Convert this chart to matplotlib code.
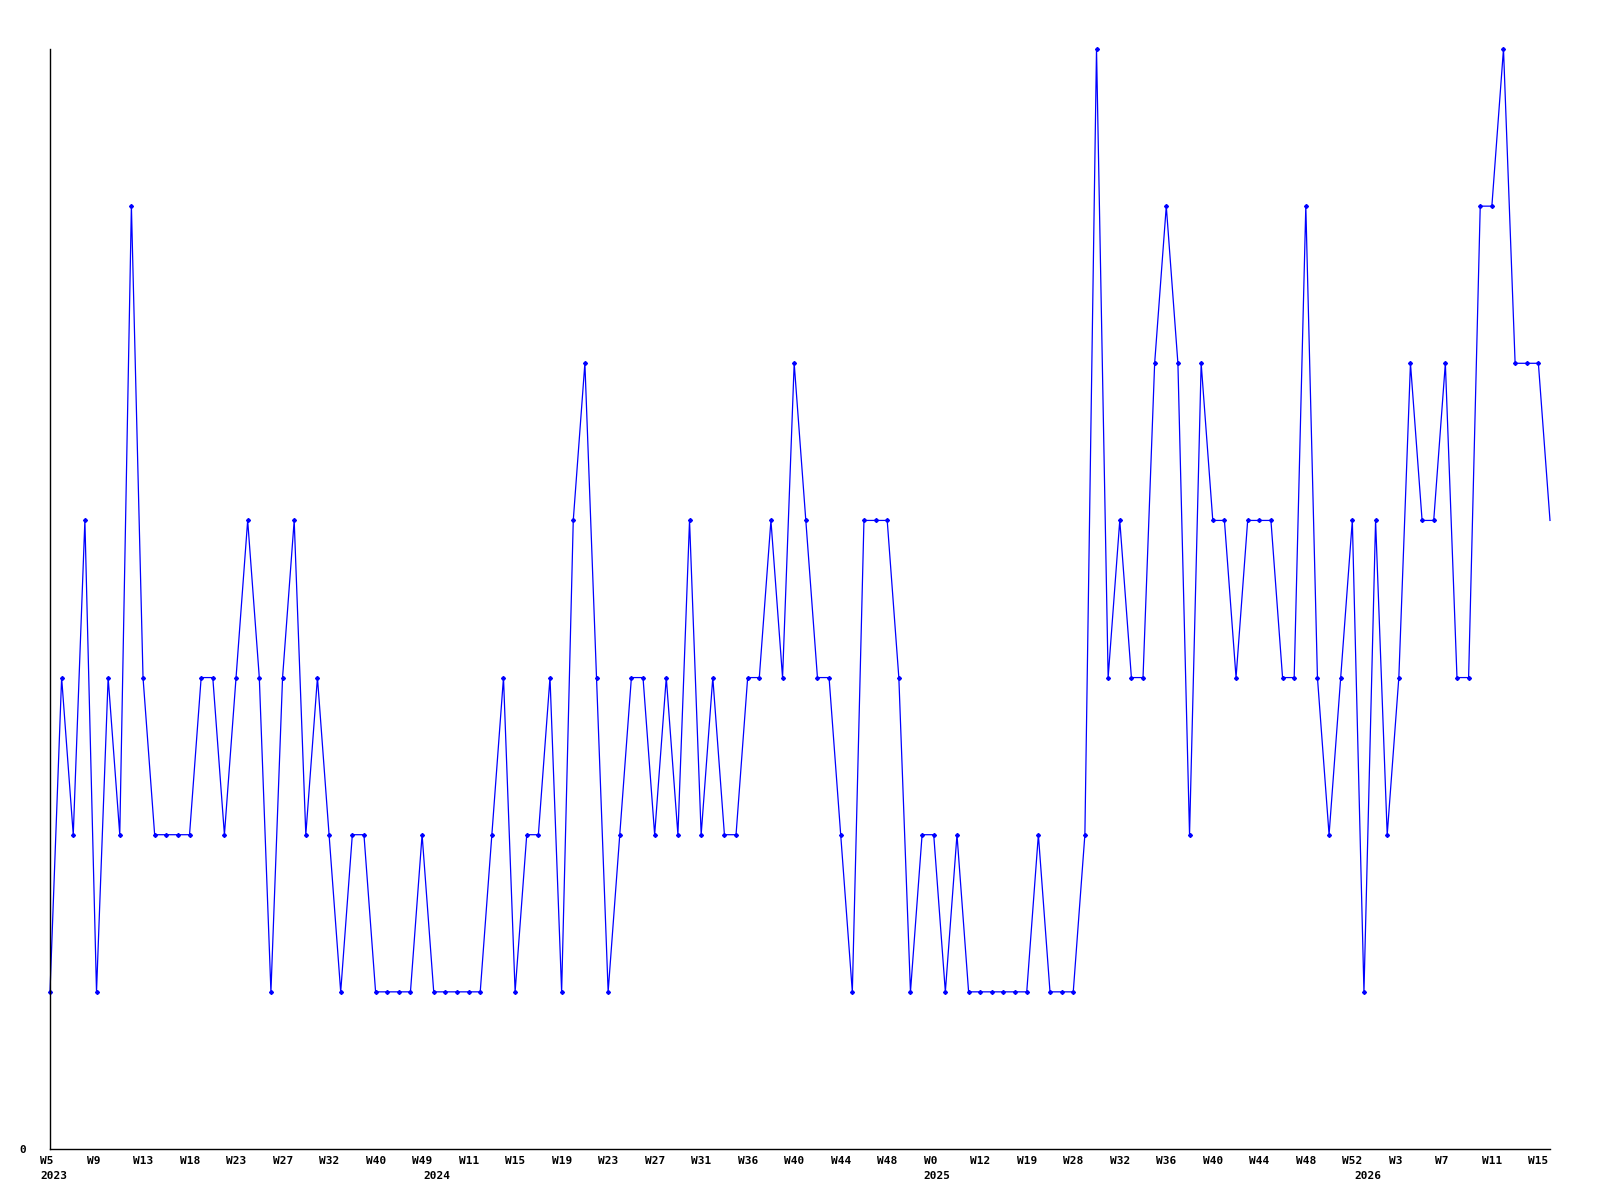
import numpy as np
import matplotlib
matplotlib.use('Agg')
import matplotlib.pyplot as plt
import matplotlib.transforms as mtransforms

# weekly values (one per week, 130 weeks)
values = [1, 3, 2, 4, 1, 3, 2, 6, 3, 2,
          2, 2, 2, 3, 3, 2, 3, 4, 3, 1,
          3, 4, 2, 3, 2, 1, 2, 2, 1, 1,
          1, 1, 2, 1, 1, 1, 1, 1, 2, 3,
          1, 2, 2, 3, 1, 4, 5, 3, 1, 2,
          3, 3, 2, 3, 2, 4, 2, 3, 2, 2,
          3, 3, 4, 3, 5, 4, 3, 3, 2, 1,
          4, 4, 4, 3, 1, 2, 2, 1, 2, 1,
          1, 1, 1, 1, 1, 2, 1, 1, 1, 2,
          7, 3, 4, 3, 3, 5, 6, 5, 2, 5,
          4, 4, 3, 4, 4, 4, 3, 3, 6, 3,
          2, 3, 4, 1, 4, 2, 3, 5, 4, 4,
          5, 3, 3, 6, 6, 7, 5, 5, 5, 4]

week_labels = ['W5', 'W9', 'W13', 'W18', 'W23', 'W27', 'W32', 'W40', 'W49',
               'W11', 'W15', 'W19', 'W23', 'W27', 'W31', 'W36', 'W40', 'W44',
               'W48', 'W0', 'W12', 'W19', 'W28', 'W32', 'W36', 'W40', 'W44',
               'W48', 'W52', 'W3', 'W7', 'W11', 'W15']
week_label_pos = [0, 4, 8, 12, 16, 20, 24, 28, 32, 36, 40, 44, 48, 52, 56, 60,
                  64, 68, 72, 76, 80, 84, 88, 92, 96, 100, 104, 108, 112, 116,
                  120, 124, 128]
years = ['2023', '2024', '2025', '2026']
year_pos = [0, 33, 76, 113]

x = np.arange(len(values))

fig = plt.figure(figsize=(16, 12), dpi=100)
ax = fig.add_axes([50 / 1600, 1 - 1149 / 1200, 1500 / 1600, 1100 / 1200])

ax.plot(x, values, color='#0000ff', lw=0.9, marker='D', ms=2.0,
        markevery=list(range(len(values) - 1)), clip_on=False)

ax.set_xlim(0, len(values) - 1)
ax.set_ylim(0, 7)

for s in ['top', 'right']:
    ax.spines[s].set_visible(False)
for s in ['left', 'bottom']:
    ax.spines[s].set_linewidth(1.0)
    ax.spines[s].set_color('black')

font = dict(family='DejaVu Sans Mono', weight='bold', size=8)

ax.set_yticks([0])
ax.set_yticklabels(['0'], **font)
ax.tick_params(axis='y', length=0, pad=17)

ax.set_xticks([])
off = mtransforms.ScaledTranslation(-10 / 100, 0, fig.dpi_scale_trans)
trans = mtransforms.blended_transform_factory(ax.transData, ax.transAxes) + off
for p, lab in zip(week_label_pos, week_labels):
    ax.text(p, -7 / 1100, lab, transform=trans, ha='left', va='top', **font)
for p, lab in zip(year_pos, years):
    ax.text(p, -22 / 1100, lab, transform=trans, ha='left', va='top', **font)

fig.savefig('out.png', dpi=100, facecolor='white')
